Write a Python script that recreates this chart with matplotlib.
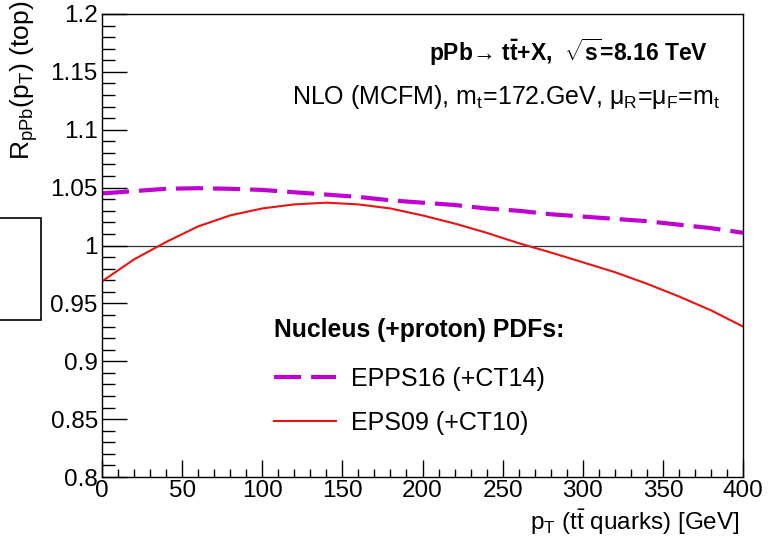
import matplotlib
matplotlib.use("Agg")
import matplotlib.pyplot as plt
from matplotlib.patches import Rectangle
from matplotlib.ticker import MultipleLocator, FuncFormatter

plt.rcParams['font.family'] = ['Liberation Sans', 'DejaVu Sans']
plt.rcParams['mathtext.fontset'] = 'custom'
plt.rcParams['mathtext.rm'] = 'Liberation Sans'
plt.rcParams['mathtext.it'] = 'Liberation Sans:italic'
plt.rcParams['mathtext.bf'] = 'Liberation Sans:bold'

# ---- data ----
pt = [0, 20, 40, 60, 80, 100, 120, 140, 160, 180, 200,
      220, 240, 260, 280, 300, 320, 340, 360, 380, 400]
r_epps16 = [1.045, 1.047, 1.049, 1.0495, 1.049, 1.048, 1.046, 1.044, 1.042, 1.039, 1.037,
            1.035, 1.032, 1.030, 1.027, 1.025, 1.023, 1.021, 1.018, 1.015, 1.011]
r_eps09 = [0.969, 0.988, 1.003, 1.0165, 1.026, 1.032, 1.0355, 1.037, 1.0355, 1.032, 1.026,
           1.019, 1.011, 1.002, 0.994, 0.9855, 0.977, 0.967, 0.956, 0.944, 0.930]
labels = ['EPPS16 (+CT14)', 'EPS09 (+CT10)']

fig = plt.figure(figsize=(7.68, 5.4), dpi=100)
ax = fig.add_axes([102/768, 1-477/540, 641/768, 463/540])

ax.axhline(1.0, color='#333333', lw=0.9, zorder=1)
l1, = ax.plot(pt, r_epps16, color='#c000d0', lw=3.0, dashes=(6.5, 2.4), label=labels[0])
l2, = ax.plot(pt, r_eps09, color='#ee1111', lw=1.5, label=labels[1])

ax.set_xlim(0, 400)
ax.set_ylim(0.8, 1.2)
ax.xaxis.set_major_locator(MultipleLocator(50))
ax.xaxis.set_minor_locator(MultipleLocator(10))
ax.yaxis.set_major_locator(MultipleLocator(0.05))
ax.yaxis.set_minor_locator(MultipleLocator(0.01))
ax.tick_params(axis='both', which='both', direction='in', top=False, right=False,
               labelsize=17.5)
ax.tick_params(axis='x', which='major', length=12, width=1, pad=2)
ax.tick_params(axis='x', which='minor', length=6, width=1)
ax.tick_params(axis='y', which='major', length=18, width=1, pad=3)
ax.tick_params(axis='y', which='minor', length=9, width=1)
ax.yaxis.set_major_formatter(FuncFormatter(lambda v, p: ('%.2f' % v).rstrip('0').rstrip('.')))
for s in ax.spines.values():
    s.set_linewidth(1.0)

fig.text(24/768, 1-1/540, r'$\mathrm{R_{pPb}(p_{T})}$ (top)', rotation=90,
         ha='center', va='top', fontsize=19)
fig.text(740/768, 1-530/540, r'$\mathrm{p_{T}}$ ($\mathrm{t\bar{t}}$ quarks) [GeV]',
         ha='right', va='baseline', fontsize=17.5)

ax.text(0.945, 0.918, r'pPb→ $\mathbf{t\bar{t}}$+X,  $\mathbf{\sqrt{s}}$=8.16 TeV',
        transform=ax.transAxes, ha='right', va='center', fontsize=16.5, fontweight='bold')
ax.text(0.965, 0.82, r'NLO (MCFM), $\mathrm{m_{t}}$=172.GeV, $\mathrm{\mu_{R}}$=$\mathrm{\mu_{F}}$=$\mathrm{m_{t}}$',
        transform=ax.transAxes, ha='right', va='center', fontsize=18)

leg = ax.legend(handles=[l1, l2], title='Nucleus (+proton) PDFs:', loc='upper left',
                bbox_to_anchor=(0.268, 0.343), frameon=False, fontsize=18,
                handlelength=2.5, handletextpad=0.6, labelspacing=0.8,
                borderpad=0, borderaxespad=0, alignment='left',
                title_fontproperties={'weight': 'bold', 'size': 17.8})
leg._legend_box.sep = 18

# stray box left of the frame
fig.patches.append(Rectangle((-0.01, 1-320/540), 49/768, 102/540, transform=fig.transFigure,
                             fill=False, edgecolor='black', lw=1.2))

fig.savefig('out.png', dpi=100)
